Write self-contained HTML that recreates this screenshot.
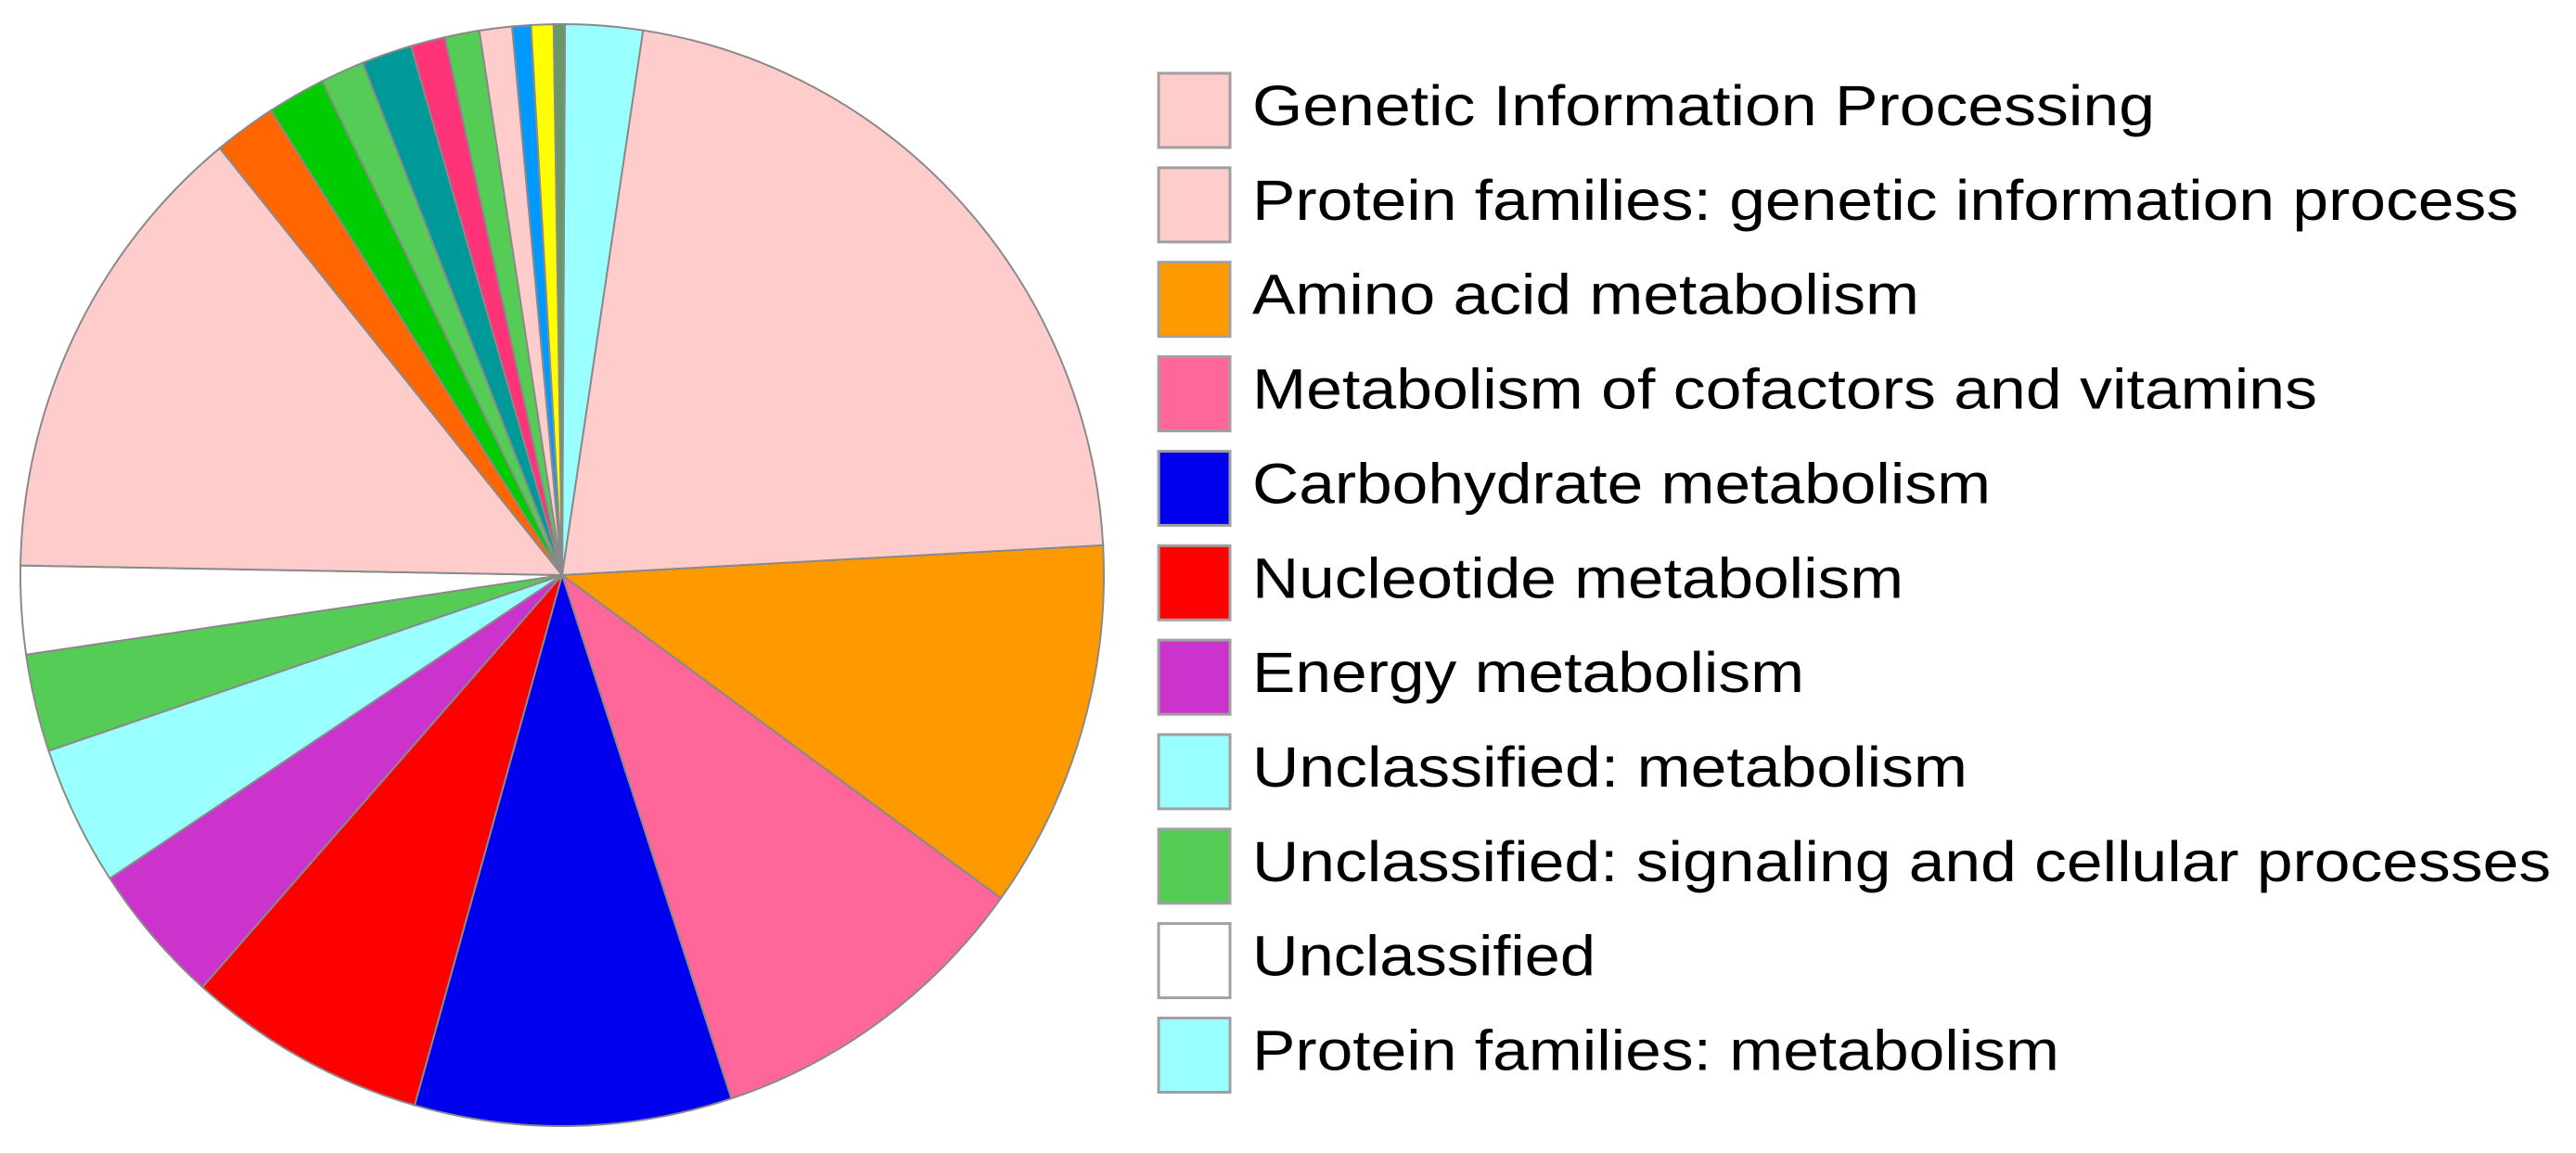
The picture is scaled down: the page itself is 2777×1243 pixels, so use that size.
<!DOCTYPE html>
<html><head><meta charset="utf-8"><style>
html,body{margin:0;padding:0;background:#fff;}
svg{display:block;}
text{font-family:"Liberation Sans",sans-serif;fill:#000;}
</style></head><body>
<svg id="chart" width="2777" height="1243" viewBox="0 0 2777 1243" xmlns="http://www.w3.org/2000/svg">
<g id="pie"></g>
<g id="legend"></g>
</svg>
<script>
// slice values in degrees-share (clockwise from just right of 12 o'clock)
const sliceValues = [8.3,78.3,39,35.9,34,25.8,15,14.8,10.3,9.3,49.8,6.7,6.2,4.7,5.4,3.7,3.7,3.5,2,2.4,1.2];
const sliceColors = ["#99FFFF","#FFCCCC","#FF9900","#FF6699","#0000EE","#FF0000","#CC33CC","#99FFFF","#55CC55","#FFFFFF","#FFCCCC","#FF6600","#00CC00","#55CC55","#009999","#FF3377","#55CC55","#FFCCCC","#0099FF","#FFFF00","#669966"];
const legendLabels = ["Genetic Information Processing","Protein families: genetic information process","Amino acid metabolism","Metabolism of cofactors and vitamins","Carbohydrate metabolism","Nucleotide metabolism","Energy metabolism","Unclassified: metabolism","Unclassified: signaling and cellular processes","Unclassified","Protein families: metabolism"];
const legendColors = ["#FFCCCC","#FFCCCC","#FF9900","#FF6699","#0000EE","#FF0000","#CC33CC","#99FFFF","#55CC55","#FFFFFF","#99FFFF"];
const legendWidths = [973,1365,719,1148,796,702,595,771,1400,370,870];

const NS="http://www.w3.org/2000/svg";
const cx=606, cy=620, rx=584, ry=594, startDeg=0.3;
const total=sliceValues.reduce((a,b)=>a+b,0);
function pt(deg){const a=deg*Math.PI/180;return [cx+rx*Math.sin(a), cy-ry*Math.cos(a)];}
const pie=document.getElementById('pie');
let acc=startDeg;
sliceValues.forEach((v,i)=>{
  const d0=acc, d1=acc+v/total*360; acc=d1;
  const [x0,y0]=pt(d0),[x1,y1]=pt(d1);
  const large=(d1-d0)>180?1:0;
  const p=document.createElementNS(NS,'path');
  p.setAttribute('d',`M${cx},${cy}L${x0},${y0}A${rx},${ry} 0 ${large} 1 ${x1},${y1}Z`);
  p.setAttribute('fill',sliceColors[i]);
  p.setAttribute('stroke','#8a8a8a');
  p.setAttribute('stroke-width','2');
  
  
  pie.appendChild(p);
});
const lg=document.getElementById('legend');
legendLabels.forEach((t,i)=>{
  const top=79+i*101.85;
  const g=document.createElementNS(NS,'g');
  
  
  const r=document.createElementNS(NS,'rect');
  r.setAttribute('x',1249);r.setAttribute('y',top);r.setAttribute('width',77);r.setAttribute('height',80);
  r.setAttribute('fill',legendColors[i]);r.setAttribute('stroke','#a0a0a0');r.setAttribute('stroke-width','3');
  
  
  const tx=document.createElementNS(NS,'text');
  tx.setAttribute('x',1350);tx.setAttribute('y',top+56);
  tx.setAttribute('font-size','61');
  tx.setAttribute('textLength',legendWidths[i]);
  tx.setAttribute('lengthAdjust','spacingAndGlyphs');
  tx.textContent=t;
  
  
  g.appendChild(r);g.appendChild(tx);lg.appendChild(g);
});
</script>
</body></html>
